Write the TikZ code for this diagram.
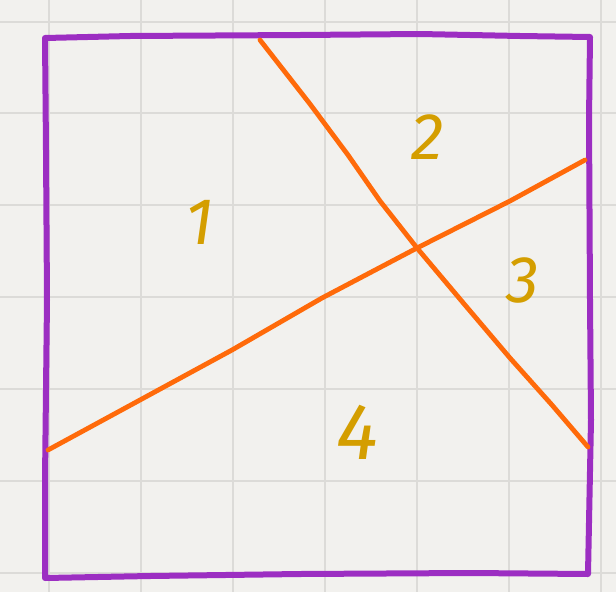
\documentclass[tikz,border=0pt]{standalone}
\usepackage{fontspec}
\setmainfont{Fira Sans}
\definecolor{paper}{HTML}{F2F1EE}
\definecolor{gridc}{HTML}{DCDBD8}
\definecolor{boxc}{HTML}{9C2EC2}
\definecolor{linec}{HTML}{FF6A0A}
\definecolor{labc}{HTML}{D49E00}
\tikzset{
  gridline/.style={gridc, line width=2.6pt},
  boxline/.style={boxc, line width=6pt, line join=round, line cap=round},
  cutline/.style={linec, line width=4.8pt, line cap=round, line join=round},
  numlabel/.style={text=labc, font=\fontsize{66}{66}\selectfont\itshape, inner sep=0pt}
}
\begin{document}
\begin{tikzpicture}[x=1pt,y=-1pt]
\useasboundingbox (0,0) rectangle (616,592);
\fill[paper] (0,0) rectangle (616,592);
\foreach \gx in {49,141,233,325,417,509,601} \draw[gridline] (\gx,0) -- (\gx,592);
\foreach \gy in {22,113,205,297,389,481,573} \draw[gridline] (0,\gy) -- (616,\gy);
% box
\draw[boxline] (45,38) -- (130,36) -- (300,35) -- (420,34) -- (520,36) -- (590,37)
  -- (589,120) -- (590,300) -- (591,420) -- (588,574)
  -- (470,573) -- (300,574) -- (150,576) -- (45,578)
  -- (45,480) -- (47,300) -- (46,150) -- cycle;
% cut lines
\coordinate (a1) at (260,40);
\coordinate (a2) at (588,447);
\coordinate (b1) at (48,450);
\coordinate (b2) at (585,160);
\coordinate (x) at (417,248);
\draw[cutline] (a1) -- (310,104) -- (348,155) -- (380,201) -- (x) -- (465,305) -- (510,358) -- (552,405) -- (a2);
\draw[cutline] (b1) -- (140,400) -- (232,350) -- (322,298) -- (x) -- (510,201) -- (b2);
% labels
\node[numlabel] (n1) at (200,222) {1};
\node[numlabel] (n2) at (428,137) {2};
\node[numlabel] (n3) at (523,280) {3};
\node[numlabel, font=\fontsize{80}{80}\selectfont\itshape] (n4) at (358,432) {4};
\end{tikzpicture}
\end{document}
